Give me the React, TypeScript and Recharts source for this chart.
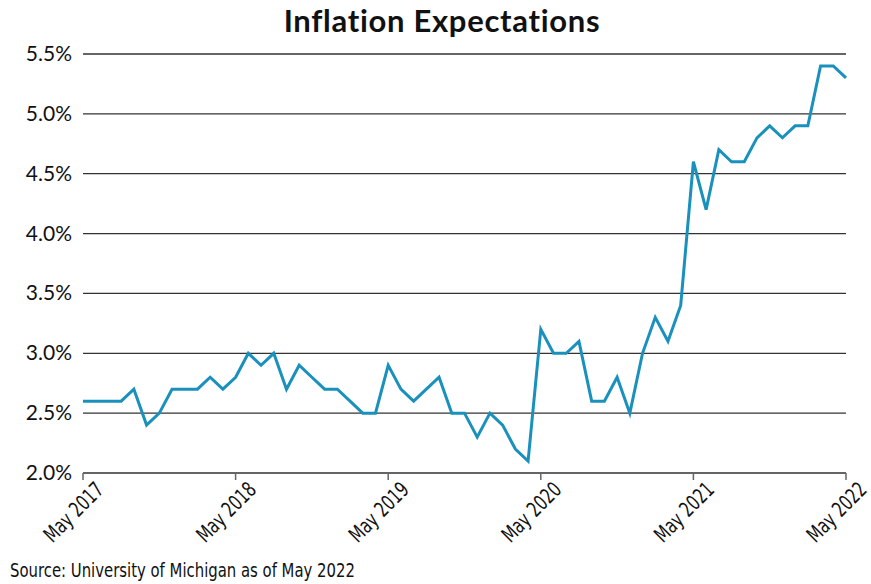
import { LineChart, Line, XAxis, YAxis, CartesianGrid } from 'recharts';

const months = [
  'May 2017', 'Jun 2017', 'Jul 2017', 'Aug 2017', 'Sep 2017', 'Oct 2017', 'Nov 2017', 'Dec 2017',
  'Jan 2018', 'Feb 2018', 'Mar 2018', 'Apr 2018', 'May 2018', 'Jun 2018', 'Jul 2018', 'Aug 2018', 'Sep 2018', 'Oct 2018', 'Nov 2018', 'Dec 2018',
  'Jan 2019', 'Feb 2019', 'Mar 2019', 'Apr 2019', 'May 2019', 'Jun 2019', 'Jul 2019', 'Aug 2019', 'Sep 2019', 'Oct 2019', 'Nov 2019', 'Dec 2019',
  'Jan 2020', 'Feb 2020', 'Mar 2020', 'Apr 2020', 'May 2020', 'Jun 2020', 'Jul 2020', 'Aug 2020', 'Sep 2020', 'Oct 2020', 'Nov 2020', 'Dec 2020',
  'Jan 2021', 'Feb 2021', 'Mar 2021', 'Apr 2021', 'May 2021', 'Jun 2021', 'Jul 2021', 'Aug 2021', 'Sep 2021', 'Oct 2021', 'Nov 2021', 'Dec 2021',
  'Jan 2022', 'Feb 2022', 'Mar 2022', 'Apr 2022', 'May 2022',
];

// 1-year inflation expectations, %
const expectations = [
  2.6, 2.6, 2.6, 2.6, 2.7, 2.4, 2.5, 2.7,
  2.7, 2.7, 2.8, 2.7, 2.8, 3.0, 2.9, 3.0, 2.7, 2.9, 2.8, 2.7,
  2.7, 2.6, 2.5, 2.5, 2.9, 2.7, 2.6, 2.7, 2.8, 2.5, 2.5, 2.3,
  2.5, 2.4, 2.2, 2.1, 3.2, 3.0, 3.0, 3.1, 2.6, 2.6, 2.8, 2.5,
  3.0, 3.3, 3.1, 3.4, 4.6, 4.2, 4.7, 4.6, 4.6, 4.8, 4.9, 4.8,
  4.9, 4.9, 5.4, 5.4, 5.3,
];

const yTicks = [2.0, 2.5, 3.0, 3.5, 4.0, 4.5, 5.0, 5.5];

const data = months.map((m, i) => ({ month: m, value: expectations[i] }));

const narrow = '"DejaVu Sans Condensed", "Roboto", sans-serif';

const XTick = ({ x, y, payload }: any) => (
  <g transform={`translate(${x + 22},${y + 9})`}>
    <text textAnchor="end" transform="rotate(-45) scale(0.88,1.12)" fontSize={19} fontFamily={narrow} fill="#111">
      {payload.value}
    </text>
  </g>
);

const YTick = ({ x, y, payload }: any) => (
  <text x={x - 3} y={y} dy={7} textAnchor="end" fontSize={21} fontFamily="Lato, sans-serif" fill="#111">
    {payload.value.toFixed(1)}%
  </text>
);

export default function App() {
  return (
    <div style={{ position: 'absolute', left: 0, top: 0, width: 871, height: 584, background: '#fff' }}>
      <div
        style={{
          position: 'absolute', left: 0, width: 884, top: 1, textAlign: 'center',
          fontFamily: 'Lato, sans-serif', fontWeight: 700, fontSize: 31, letterSpacing: 0.7, color: '#111',
        }}
      >
        Inflation Expectations
      </div>
      <LineChart width={871} height={584} data={data} margin={{ top: 54, right: 25, left: 8, bottom: 31 }}>
        <CartesianGrid horizontal vertical={false} stroke="#333" strokeWidth={1.3} />
        <XAxis
          dataKey="month"
          interval={11}
          height={80}
          tick={<XTick />}
          tickSize={7}
          tickLine={{ stroke: '#666', strokeWidth: 1.5 }}
          axisLine={{ stroke: '#666', strokeWidth: 1.5 }}
        />
        <YAxis
          domain={[2, 5.5]}
          ticks={yTicks}
          width={75}
          axisLine={false}
          tickLine={false}
          tick={<YTick />}
        />
        <Line
          type="linear"
          dataKey="value"
          stroke="#1a91bd"
          strokeWidth={3}
          dot={false}
          isAnimationActive={false}
        />
      </LineChart>
      <div
        style={{
          position: 'absolute', left: 10, top: 559, whiteSpace: 'nowrap',
          fontFamily: narrow, fontSize: 19, color: '#111',
          transform: 'scaleX(0.87)', transformOrigin: 'left top',
        }}
      >
        Source: University of Michigan as of May 2022
      </div>
    </div>
  );
}
